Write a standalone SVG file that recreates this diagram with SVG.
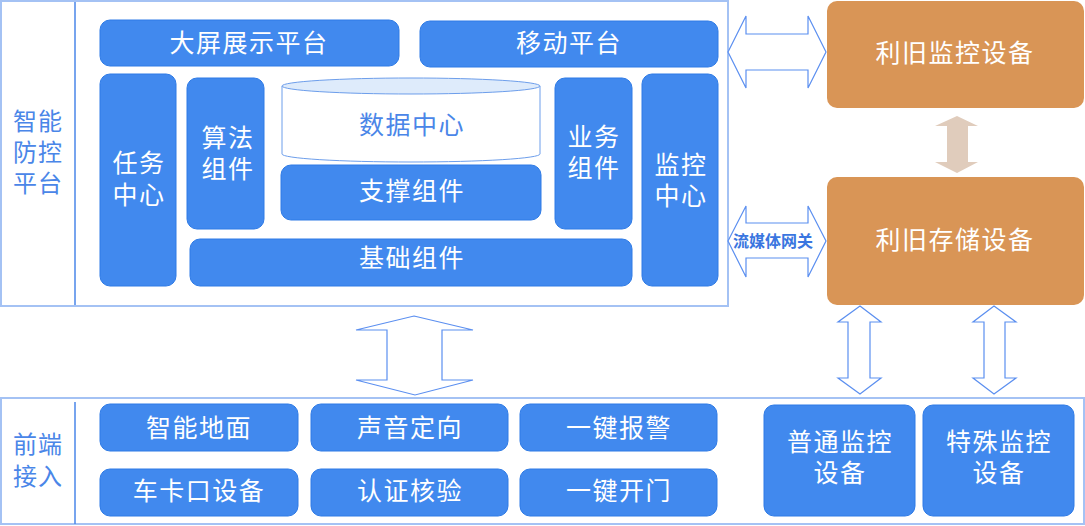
<svg xmlns="http://www.w3.org/2000/svg" width="1085" height="526" viewBox="0 0 1085 526">
<style>
.frame{fill:#fff;stroke:#a4c2f4;stroke-width:2}
.div{stroke:#4a86e8;stroke-width:1.5}
.bb{fill:#4189ee;stroke:#2f7be6;stroke-width:1}
.ob{fill:#d99556}
.wt{fill:#fff;font-family:"Noto Sans CJK SC","Liberation Sans",sans-serif;font-size:25px;text-anchor:middle;dominant-baseline:central;letter-spacing:1.5px}
.lt{fill:#4a86e8;font-family:"Noto Sans CJK SC","Liberation Sans",sans-serif;font-size:24px;text-anchor:middle;dominant-baseline:central;letter-spacing:1px}
.arr{fill:#fff;stroke:#5b8ff0;stroke-width:1.2;stroke-linejoin:miter}
</style>
<rect width="1085" height="526" fill="#fff"/>
<g id="platform">
<rect class="frame" x="1" y="1" width="727" height="305"/>
<line class="div" x1="75" y1="2" x2="75" y2="305"/>
<text class="lt" x="38"><tspan x="38" y="119">智能</tspan><tspan x="38" y="150">防控</tspan><tspan x="38" y="181">平台</tspan></text>
</g>
<g id="bigscreen"><rect class="bb" x="100" y="20" width="299" height="46" rx="10"/><text class="wt" x="249" y="41">大屏展示平台</text></g>
<g id="mobile"><rect class="bb" x="420" y="21" width="298" height="46" rx="10"/><text class="wt" x="569" y="41">移动平台</text></g>
<g id="task"><rect class="bb" x="100" y="74" width="76" height="212" rx="10"/><text class="wt"><tspan x="139" y="161">任务</tspan><tspan x="139" y="193">中心</tspan></text></g>
<g id="algo"><rect class="bb" x="187" y="78" width="77" height="151" rx="10"/><text class="wt"><tspan x="228" y="136">算法</tspan><tspan x="228" y="167">组件</tspan></text></g>
<g id="datacenter">
<path d="M282,86 L282,154 A129,8 0 0 0 540,154 L540,86" fill="#fff" stroke="#6d9eeb" stroke-width="1"/>
<ellipse cx="411" cy="86" rx="129" ry="8" fill="#deebfb" stroke="#6d9eeb" stroke-width="1"/>
<text class="lt" x="412" y="123" style="font-size:25px;letter-spacing:1.5px">数据中心</text>
</g>
<g id="support"><rect class="bb" x="281" y="165" width="260" height="55" rx="10"/><text class="wt" x="412" y="189">支撑组件</text></g>
<g id="business"><rect class="bb" x="555" y="78" width="77" height="151" rx="10"/><text class="wt"><tspan x="594" y="135">业务</tspan><tspan x="594" y="166">组件</tspan></text></g>
<g id="monitor"><rect class="bb" x="642" y="74" width="76" height="212" rx="10"/><text class="wt"><tspan x="681" y="163">监控</tspan><tspan x="681" y="194">中心</tspan></text></g>
<g id="base"><rect class="bb" x="190" y="239" width="442" height="47" rx="10"/><text class="wt" x="412" y="256">基础组件</text></g>
<g id="oldmonitor"><rect class="ob" x="827" y="1" width="257" height="107" rx="10"/><text class="wt" x="955" y="51">利旧监控设备</text></g>
<g id="oldstorage"><rect class="ob" x="827" y="177" width="257" height="128" rx="10"/><text class="wt" x="955" y="238">利旧存储设备</text></g>
<g id="frontend">
<rect class="frame" x="1" y="398" width="1083" height="126"/>
<line class="div" x1="75" y1="402" x2="75" y2="524"/>
<text class="lt"><tspan x="38" y="442">前端</tspan><tspan x="38" y="474">接入</tspan></text>
</g>
<g id="ground"><rect class="bb" x="100" y="404" width="198" height="47" rx="10"/><text class="wt" x="199" y="426">智能地面</text></g>
<g id="sound"><rect class="bb" x="311" y="404" width="197" height="47" rx="10"/><text class="wt" x="410" y="426">声音定向</text></g>
<g id="alarm"><rect class="bb" x="520" y="404" width="197" height="47" rx="10"/><text class="wt" x="619" y="426">一键报警</text></g>
<g id="gate"><rect class="bb" x="100" y="469" width="198" height="47" rx="10"/><text class="wt" x="199" y="489">车卡口设备</text></g>
<g id="auth"><rect class="bb" x="311" y="469" width="197" height="47" rx="10"/><text class="wt" x="410" y="489">认证核验</text></g>
<g id="door"><rect class="bb" x="520" y="469" width="197" height="47" rx="10"/><text class="wt" x="619" y="489">一键开门</text></g>
<g id="normalcam"><rect class="bb" x="764" y="405" width="151" height="111" rx="10"/><text class="wt"><tspan x="840" y="440">普通监控</tspan><tspan x="840" y="471">设备</tspan></text></g>
<g id="specialcam"><rect class="bb" x="923" y="405" width="151" height="111" rx="10"/><text class="wt"><tspan x="999" y="440">特殊监控</tspan><tspan x="999" y="471">设备</tspan></text></g>
<g id="connectors">
<path class="arr" d="M728,52 L746,16 L746,34 L808,34 L808,16 L826,52 L808,88 L808,70 L746,70 L746,88 Z"/>
<path class="arr" d="M728,241 L746,206 L746,223 L808,223 L808,206 L826,241 L808,277 L808,258 L746,258 L746,277 Z"/>
<text x="773" y="240" fill="#3a76e0" font-family="'Noto Sans CJK SC','Liberation Sans',sans-serif" font-size="16" font-weight="bold" text-anchor="middle" dominant-baseline="central">流媒体网关</text>
<path d="M957,116 L978,126 L968,126 L968,162 L978,162 L957,173 L935,162 L947,162 L947,126 L935,126 Z" fill="#e0ccbc"/>
<path class="arr" d="M414,316 L473,330 L442,330 L442,380 L473,380 L415,395 L356,380 L387,380 L387,330 L356,330 Z"/>
<path class="arr" d="M860,306 L881,322 L870,322 L870,378 L881,378 L860,394 L838,378 L848,378 L848,322 L838,322 Z"/>
<path class="arr" d="M994,306 L1016,322 L1005,322 L1005,378 L1016,378 L994,394 L973,378 L984,378 L984,322 L973,322 Z"/>
</g>
</svg>
